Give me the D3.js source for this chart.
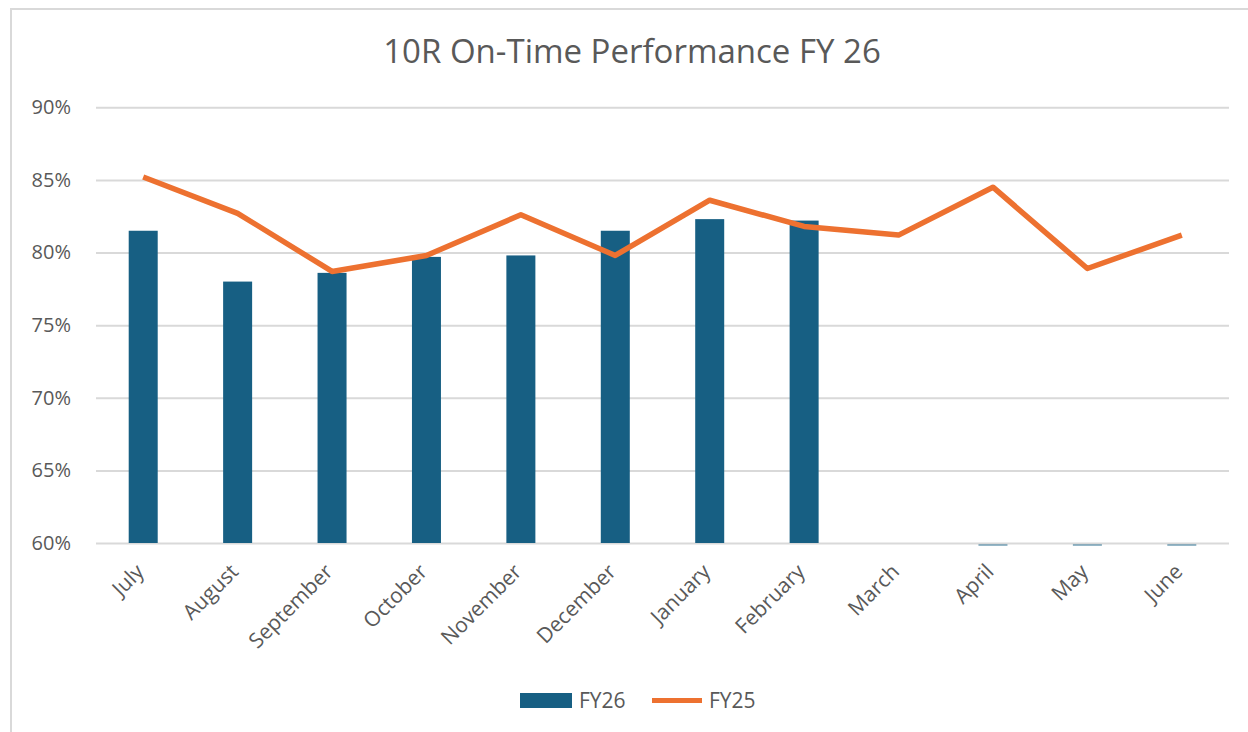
<!DOCTYPE html>
<html><head><meta charset="utf-8">
<script src="https://cdn.jsdelivr.net/npm/d3@7"></script>
<style>
html,body{margin:0;padding:0;background:#fff;}
svg{display:block;}
text{font-family:"Open Sans",sans-serif;fill:#595959;}
</style></head>
<body>
<svg id="chart" width="1248" height="732"></svg>
<script>
const months = ["July","August","September","October","November","December","January","February","March","April","May","June"];
const fy26 = [0.815,0.780,0.786,0.797,0.798,0.815,0.823,0.822,null,0,0,0];
const fy25 = [0.852,0.827,0.787,0.798,0.826,0.798,0.836,0.818,0.812,0.845,0.789,0.812];
const yTicks = [0.60,0.65,0.70,0.75,0.80,0.85,0.90];
const title = "10R On-Time Performance FY 26";
const seriesNames = ["FY26","FY25"];

const svg = d3.select("#chart");
const W = 1248, H = 732;
const plot = {left:96, right:1229, top:107.3, bottom:543};
const barColor = "#175f83", lineColor = "#ed7130";

// outer border
svg.append("rect").attr("x",11).attr("y",9).attr("width",W+10).attr("height",H+10)
  .attr("fill","none").attr("stroke","#d9d9d9").attr("stroke-width",2);

// title
svg.append("text").attr("x",632).attr("y",63).attr("text-anchor","middle")
  .style("font-size","33px").text(title);

const x = d3.scaleBand().domain(months).range([plot.left,plot.right]).paddingInner(0).paddingOuter(0);
const y = d3.scaleLinear().domain([0.60,0.90]).range([plot.bottom,plot.top]);

// gridlines
const yAxis = d3.axisLeft(y).tickValues(yTicks).tickFormat(d3.format(".0%"))
  .tickSize(-(plot.right-plot.left)).tickPadding(25);
const gy = svg.append("g").attr("transform",`translate(${plot.left},0)`).call(yAxis);
gy.select(".domain").remove();
gy.selectAll(".tick line").attr("stroke","#d9d9d9").attr("stroke-width",2);
gy.selectAll(".tick text").style("font-size","20px").attr("fill","#595959");

// bars
const bw = 29;
svg.append("g").selectAll("rect").data(months.map((m,i)=>({m,v:fy26[i]})).filter(d=>d.v!==null))
  .join("rect")
  .attr("x",d=>x(d.m)+x.bandwidth()/2-bw/2)
  .attr("width",bw)
  .attr("y",d=>d.v>=0.60 ? y(d.v) : y(0.60)+1)
  .attr("height",d=>d.v>=0.60 ? y(0.60)-y(d.v) : 2)
  .attr("fill",barColor)
  .attr("opacity",d=>d.v>=0.60 ? 1 : 0.45);

// line
const line = d3.line().x((d,i)=>x(months[i])+x.bandwidth()/2).y(d=>y(d));
svg.append("path").datum(fy25).attr("d",line).attr("fill","none")
  .attr("stroke",lineColor).attr("stroke-width",5.5).attr("stroke-linejoin","round");

// x labels
const xAxis = d3.axisBottom(x).tickSize(0).tickPadding(0);
const gx = svg.append("g").attr("transform",`translate(0,${plot.bottom})`).call(xAxis);
gx.select(".domain").remove();
gx.selectAll(".tick text")
  .attr("text-anchor","end")
  .attr("dy",0)
  .attr("transform","translate(2,30) rotate(-45)")
  .style("font-size","21px").attr("fill","#595959");

// legend
const lg = svg.append("g");
lg.append("rect").attr("x",520).attr("y",693).attr("width",52).attr("height",15).attr("fill",barColor);
lg.append("text").attr("x",579).attr("y",708).style("font-size","21px").text(seriesNames[0]);
lg.append("line").attr("x1",652).attr("x2",702).attr("y1",700.5).attr("y2",700.5)
  .attr("stroke",lineColor).attr("stroke-width",5);
lg.append("text").attr("x",709).attr("y",708).style("font-size","21px").text(seriesNames[1]);
</script>
</body></html>
